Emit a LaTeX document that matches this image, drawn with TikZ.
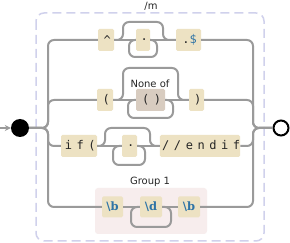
\documentclass[tikz,border=0pt]{standalone}
\usepackage{fontspec}
\setmainfont{DejaVu Sans}
\newfontfamily\spmono[LetterSpace=38]{DejaVu Sans Mono}
\newfontfamily\escserif{DejaVu Serif}
\usetikzlibrary{arrows.meta}
\definecolor{linegray}{HTML}{9A9A9A}
\definecolor{litfill}{HTML}{EDE2C3}
\definecolor{setfill}{HTML}{D8CCC0}
\definecolor{grpfill}{HTML}{F7EDED}
\definecolor{boxline}{HTML}{D0D1EC}
\definecolor{escblue}{HTML}{2F74A6}
\begin{document}
\begin{tikzpicture}[x=1pt,y=-1pt,
  wire/.style={draw=linegray, line width=2pt, rounded corners=6pt},
  boxbase/.style={fill=litfill, rounded corners=1.5pt, minimum height=22pt, inner sep=0pt},
  lit/.style={boxbase, font=\spmono\fontsize{12}{13}\selectfont, text=black!85,
    execute at begin node={\kern 2.3pt}},
  esc/.style={boxbase, minimum height=21pt, font=\escserif\bfseries\fontsize{11.5}{13}\selectfont, text=escblue},
  lbl/.style={font=\fontsize{10}{12}\selectfont, text=black!85, inner sep=0pt},
]
\useasboundingbox[fill=white] (0,0) rectangle (290,243);
% outer dashed frame
\draw[boxline, line width=1.5pt, dash pattern=on 9pt off 5pt, rounded corners=8pt] (36,13) rectangle (264,241);
\node[lbl] (flag) at (151,6.5) {/m};
% group background
\node[fill=grpfill, rounded corners=3pt, minimum width=112pt, minimum height=46pt, inner sep=0pt] (grp) at (151,211) {};
\node[lbl] (grplbl) at (150,182) {Group 1};
% start / end
\node[circle, fill=black, minimum size=18pt, inner sep=0pt] (start) at (20,128) {};
\node[circle, draw=black, line width=2pt, fill=white, minimum size=15pt, inner sep=0pt] (end) at (281,128) {};
\coordinate (entry) at (0,128);
% row 1
\node[lit, minimum width=16pt] (caret) at (106,40) {\textasciicircum};
\node[lit, minimum width=14pt] (any1) at (143,40) {.};
\node[lit, minimum width=25pt] (dotdollar) at (188.5,40) {.\textcolor{escblue}{\$}};
% row 2
\node[lit, minimum width=16pt] (lpar) at (105,100) {(};
\node[lit, fill=setfill, minimum width=29pt] (noneof) at (150.5,100) {()};
\node[lbl] (noneoflbl) at (150,84) {None of};
\node[lit, minimum width=15pt] (rpar) at (196.5,100) {)};
% row 3
\node[lit, minimum width=36pt] (ifopen) at (79,146) {if(};
\node[lit, minimum width=15pt] (any2) at (129.5,146) {.};
\node[lit, minimum width=80pt] (endif) at (200,146) {//endif};
% row 4
\node[esc, minimum width=21pt] (wb1) at (112.5,207) {\textbackslash b};
\node[esc, minimum width=22pt] (digit) at (151,207) {\textbackslash d};
\node[esc, minimum width=22pt] (wb2) at (189,207) {\textbackslash b};
% entry arrow
\draw[linegray, line width=1.3pt, -{Stealth[length=6pt,width=6pt]}] (entry) -- (start.west);
% left branches
\draw[wire] (start.east) -- (48,128) -- (48,40) -- (caret.west);
\draw[wire] (start.east) -- (48,128) -- (48,100) -- (lpar.west);
\draw[wire] (start.east) -- (48,128) -- (48,146) -- (ifopen.west);
\draw[wire] (start.east) -- (48,128) -- (48,207) -- (wb1.west);
% right branches
\draw[wire] (dotdollar.east) -- (253,40) -- (253,128) -- (end.west);
\draw[wire] (rpar.east) -- (253,100) -- (253,128) -- (end.west);
\draw[wire] (endif.east) -- (253,146) -- (253,128) -- (end.west);
\draw[wire] (wb2.east) -- (253,207) -- (253,128) -- (end.west);
% row 1 internals
\draw[wire] (caret.east) -- (any1.west);
\draw[wire] (any1.east) -- (dotdollar.west);
\draw[wire] (caret.east) -- (123,40) -- (123,22) -- (163,22) -- (163,40) -- (dotdollar.west);
\draw[wire] (any1.east) -- (157,40) -- (157,57) -- (129,57) -- (129,40) -- (any1.west);
% row 2 internals
\draw[wire] (lpar.east) -- (noneof.west);
\draw[wire] (noneof.east) -- (rpar.west);
\draw[wire] (lpar.east) -- (123,100) -- (123,68) -- (178,68) -- (178,100) -- (rpar.west);
\draw[wire] (noneof.east) -- (173,100) -- (173,118) -- (128,118) -- (128,100) -- (noneof.west);
% row 3 internals
\draw[wire] (ifopen.east) -- (any2.west);
\draw[wire] (any2.east) -- (endif.west);
\draw[wire] (ifopen.east) -- (105,146) -- (105,128) -- (150,128) -- (150,146) -- (endif.west);
\draw[wire] (any2.east) -- (145,146) -- (145,165) -- (113,165) -- (113,146) -- (any2.west);
% row 4 internals
\draw[wire] (wb1.east) -- (digit.west);
\draw[wire] (digit.east) -- (wb2.west);
\draw[wire] (digit.east) -- (171,207) -- (171,227) -- (131,227) -- (131,207) -- (digit.west);
\end{tikzpicture}
\end{document}
